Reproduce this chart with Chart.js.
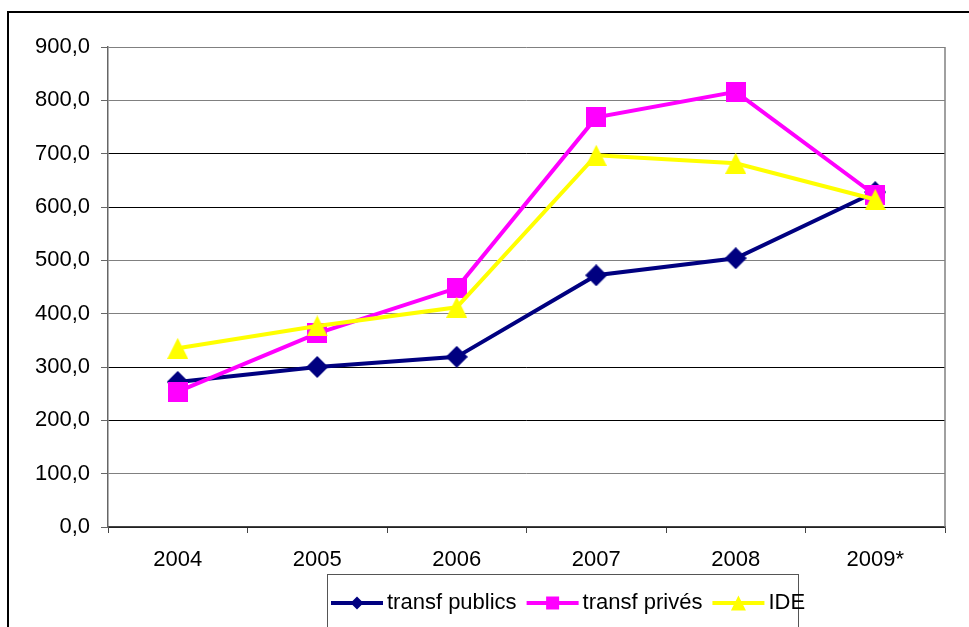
<!DOCTYPE html>
<html>
<head>
<meta charset="utf-8">
<script src="https://cdn.jsdelivr.net/npm/chart.js@4.4.1/dist/chart.umd.min.js"></script>
<style>
  html, body { margin: 0; padding: 0; background: #fff; overflow: hidden; }
  canvas { display: block; }
</style>
</head>
<body>
<canvas id="chart" width="969" height="627"></canvas>
<script>
// Categories and series
const years = ['2004', '2005', '2006', '2007', '2008', '2009*'];
const transfPublics = [272, 300, 319, 472, 504, 628];
const transfPrives = [254, 363, 448, 768, 816, 622];
const ide = [335, 377, 412, 697, 682, 614];
const seriesNames = ['transf publics', 'transf privés', 'IDE'];

// Value axis range
const yMin = 0;
const yMax = 900;
const yStep = 100;

const FONT = '"Liberation Sans", Arial, sans-serif';
const COLORS = ['#000080', '#FF00FF', '#FFFF00'];
const SHAPES = ['diamond', 'square', 'triangle'];

function drawMarker(ctx, shape, cx, cy, size, color) {
  const h = size / 2;
  ctx.fillStyle = color;
  ctx.beginPath();
  if (shape === 'diamond') {
    ctx.moveTo(cx, cy - h);
    ctx.lineTo(cx + h, cy);
    ctx.lineTo(cx, cy + h);
    ctx.lineTo(cx - h, cy);
  } else if (shape === 'square') {
    ctx.rect(cx - h, cy - h, size, size);
  } else {
    ctx.moveTo(cx, cy - h);
    ctx.lineTo(cx + h, cy + h);
    ctx.lineTo(cx - h, cy + h);
  }
  ctx.closePath();
  ctx.fill();
}

function markerCanvas(shape, size, color) {
  const c = document.createElement('canvas');
  c.width = size;
  c.height = size;
  drawMarker(c.getContext('2d'), shape, size / 2, size / 2, size, color);
  return c;
}

const markerSizes = [22, 20, 21];

// Outer frame, right edge of the plot area
const framePlugin = {
  id: 'frame',
  beforeDraw(chart) {
    const ctx = chart.ctx;
    ctx.save();
    ctx.strokeStyle = '#000';
    ctx.lineWidth = 2;
    ctx.beginPath();
    ctx.moveTo(8, 640);
    ctx.lineTo(8, 12);
    ctx.lineTo(980, 12);
    ctx.stroke();
    ctx.restore();
  },
  beforeDatasetsDraw(chart) {
    const { ctx, chartArea } = chart;
    ctx.save();
    ctx.strokeStyle = '#808080';
    ctx.lineWidth = 1.5;
    ctx.beginPath();
    ctx.moveTo(chartArea.right, chartArea.top);
    ctx.lineTo(chartArea.right, chartArea.bottom);
    ctx.stroke();
    ctx.restore();
  }
};

// Legend box with line + marker samples
const legendPlugin = {
  id: 'lineLegend',
  afterDraw(chart) {
    const ctx = chart.ctx;
    ctx.save();
    ctx.strokeStyle = '#555';
    ctx.lineWidth = 1;
    ctx.strokeRect(327.5, 574.5, 471, 80);
    ctx.font = '22px ' + FONT;
    ctx.textBaseline = 'middle';
    ctx.fillStyle = '#000';
    const cy = 603;
    let x = 331;
    const legendMarker = [13, 13, 15];
    seriesNames.forEach((name, i) => {
      ctx.strokeStyle = COLORS[i];
      ctx.lineWidth = 4;
      ctx.beginPath();
      ctx.moveTo(x, cy);
      ctx.lineTo(x + 52, cy);
      ctx.stroke();
      drawMarker(ctx, SHAPES[i], x + 26, cy, legendMarker[i], COLORS[i]);
      ctx.fillStyle = '#000';
      ctx.fillText(name, x + 56, cy);
      x += 56 + ctx.measureText(name).width + 10;
    });
    ctx.restore();
  }
};

const grayGrid = [900, 800, 500, 400, 100];

function formatValue(v) {
  return v.toFixed(1).replace('.', ',');
}

const seriesData = [transfPublics, transfPrives, ide];

new Chart(document.getElementById('chart'), {
  type: 'line',
  data: {
    labels: years,
    datasets: seriesData.map((values, i) => ({
      label: seriesNames[i],
      data: values,
      borderColor: COLORS[i],
      backgroundColor: COLORS[i],
      borderWidth: 4,
      tension: 0,
      pointStyle: markerCanvas(SHAPES[i], markerSizes[i], COLORS[i]),
      pointRadius: 11,
      pointHoverRadius: 11,
      order: 2 - i
    }))
  },
  options: {
    responsive: false,
    animation: false,
    events: [],
    layout: { padding: { left: 8, right: 24, top: 47, bottom: 0 } },
    plugins: {
      legend: { display: false },
      tooltip: { enabled: false },
      title: { display: false }
    },
    scales: {
      x: {
        offset: true,
        afterFit(scale) { scale.height = 100; },
        grid: {
          offset: true,
          drawOnChartArea: false,
          drawTicks: true,
          tickLength: 6,
          tickColor: '#444',
          tickWidth: 1
        },
        border: { color: '#444', width: 1.5 },
        ticks: {
          color: '#000',
          font: { family: FONT, size: 22 },
          padding: 14,
          maxRotation: 0,
          autoSkip: false
        }
      },
      y: {
        min: yMin,
        max: yMax,
        afterFit(scale) { scale.width = 100; },
        grid: {
          color: (c) => (grayGrid.includes(c.tick && c.tick.value) ? '#808080' : '#000'),
          lineWidth: 1,
          tickLength: 7,
          tickColor: '#666'
        },
        border: { color: '#666', width: 1.5 },
        ticks: {
          stepSize: yStep,
          color: '#000',
          font: { family: FONT, size: 22 },
          padding: 11,
          callback: (v) => formatValue(v)
        }
      }
    }
  },
  plugins: [framePlugin, legendPlugin]
});
</script>
</body>
</html>
